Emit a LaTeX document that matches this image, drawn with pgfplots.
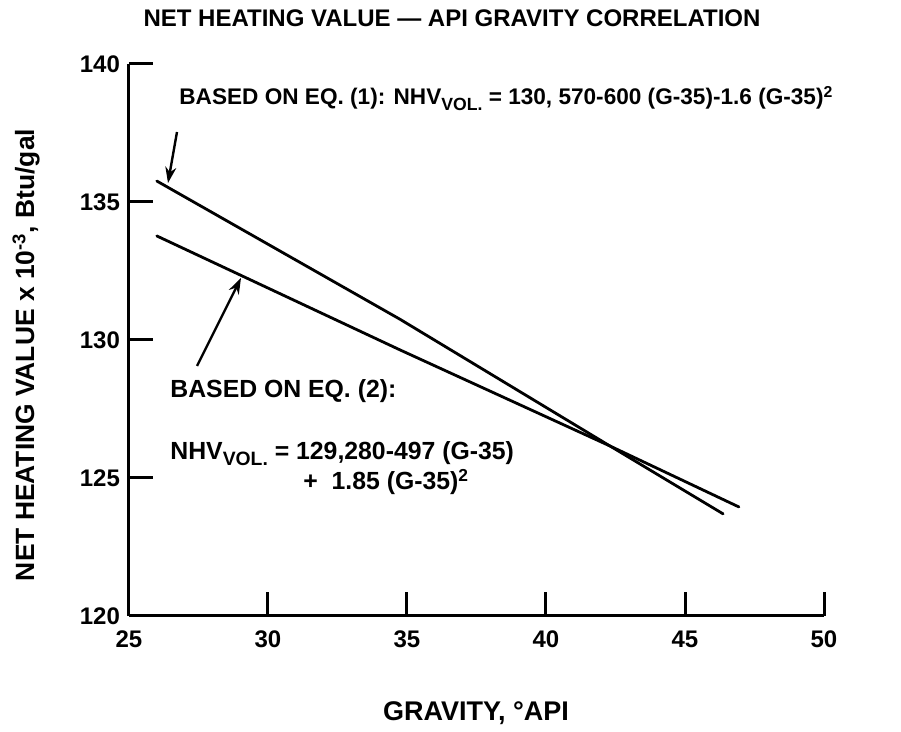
\documentclass[border=0pt]{standalone}
\usepackage{fontspec}
\setmainfont{Liberation Sans}
\usepackage{pgfplots}
\pgfplotsset{compat=1.18}
\usetikzlibrary{arrows.meta}

\newcommand{\vol}{\raisebox{-0.45ex}{\fontsize{0.78em}{1em}\selectfont VOL.}}

\begin{document}
\begin{tikzpicture}
\begin{axis}[
    at={(0,0)}, anchor=south west,
    scale only axis,
    width=347.5pt, height=276pt,
    xmin=25, xmax=50, ymin=120, ymax=140,
    axis x line=bottom, axis y line=left,
    axis line style={-, line width=1.5pt},
    xtick={25,30,...,50}, ytick={120,125,...,140},
    tick align=inside,
    major tick length=12pt,
    tick style={line width=1.5pt, black},
    /pgf/number format/assume math mode=true,
    ticklabel style={font=\fontsize{12}{14}\selectfont\bfseries},
    xticklabel style={yshift=-4pt},
    yticklabel style={xshift=-1pt},
    clip=false,
]
% eq. (1)
\addplot[black, line width=1.4pt, line cap=round] coordinates {
(26.0,135.76) (34.75,130.75) (42.3,126.16) (46.37,123.70)
};
% eq. (2)
\addplot[black, line width=1.4pt, line cap=round] coordinates {
(26.0,133.77) (34.75,129.64) (42.3,126.16) (46.94,123.95)
};
\end{axis}
\path (-64.5pt,-58pt) rectangle (386pt,308pt);
\begin{scope}[shift={(-64.5pt,308pt)}, x=0.5pt, y=-0.5pt,
  every node/.style={inner sep=0pt, font=\bfseries}]
\node[anchor=base, font=\fontsize{12}{14}\selectfont\bfseries] at (452,27)
  {NET HEATING VALUE --- API GRAVITY CORRELATION};
\node[anchor=base west, font=\fontsize{11.3}{13}\selectfont\bfseries] at (179,105)
  {BASED ON EQ. (1): NHV\vol\ = 130, 570-600 (G-35)-1.6 (G-35)\textsuperscript{2}};
\begin{scope}[every node/.append style={font=\fontsize{12.4}{14}\selectfont\bfseries}]
\node[anchor=base west] at (170,398) {BASED ON EQ. (2):};
\node[anchor=base west] at (170,460) {NHV\vol\ = 129,280-497 (G-35)};
\node[anchor=base west] at (303,490) {+\ \ 1.85 (G-35)\textsuperscript{2}};
\end{scope}
\node[rotate=90, font=\fontsize{13.2}{15}\selectfont\bfseries] at (26,355)
  {NET HEATING VALUE x 10\textsuperscript{-3}, Btu/gal};
\node[font=\fontsize{13.5}{15}\selectfont\bfseries] at (476,713) {GRAVITY, \textdegree API};
\draw[line width=1.2pt, -{Stealth[length=8pt, width=5.5pt]}] (177,132) -- (168,183);
\draw[line width=1.2pt, -{Stealth[length=8pt, width=5.5pt]}] (197,366) -- (241,278);
\end{scope}
\end{tikzpicture}
\end{document}
